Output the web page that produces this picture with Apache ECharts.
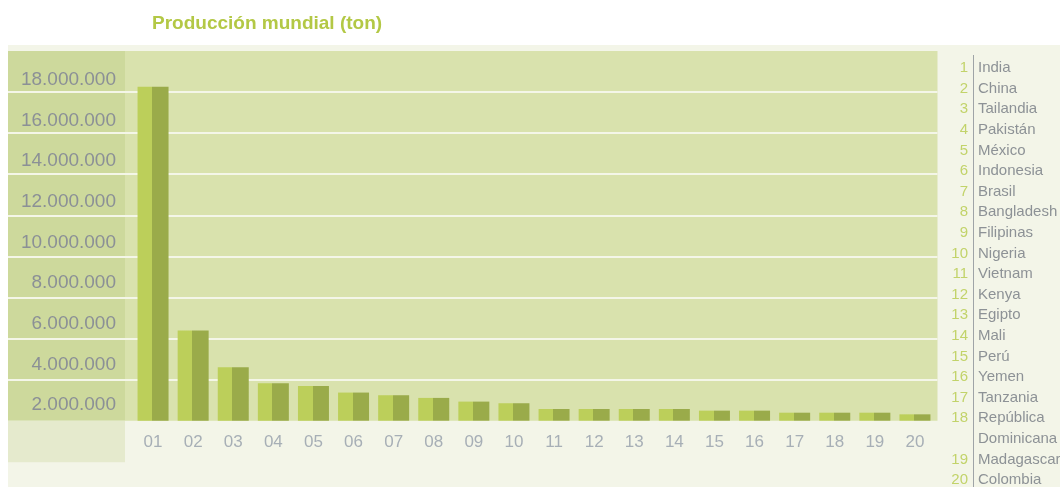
<!DOCTYPE html>
<html>
<head>
<meta charset="utf-8">
<script src="https://cdn.jsdelivr.net/npm/echarts@6/dist/echarts.min.js"></script>
<style>
  html, body { margin: 0; padding: 0; background: #fff; }
  #chart { width: 1060px; height: 487px; }
</style>
</head>
<body>
<div id="chart"></div>
<script>
  // datos
  var categories = ['01', '02', '03', '04', '05', '06', '07', '08', '09', '10',
                    '11', '12', '13', '14', '15', '16', '17', '18', '19', '20'];
  var production = [16260000, 4390000, 2600000, 1820000, 1690000, 1370000, 1240000, 1110000, 930000, 850000,
                    570000, 570000, 570000, 570000, 490000, 490000, 390000, 390000, 390000, 310000];
  var countries = ['India', 'China', 'Tailandia', 'Pakistán', 'México', 'Indonesia', 'Brasil', 'Bangladesh',
                   'Filipinas', 'Nigeria', 'Vietnam', 'Kenya', 'Egipto', 'Mali', 'Perú', 'Yemen', 'Tanzania',
                   'República Dominicana', 'Madagascar', 'Colombia'];
  var yMax = 18000000;
  var yStep = 2000000;

  var light = '#bccf5a', dark = '#9aab4a';
  var font = '"Liberation Sans", Arial, sans-serif';

  // separador de miles con punto
  function fmt(v) {
    return String(v).replace(/\B(?=(\d{3})+(?!\d))/g, '.');
  }

  // leyenda de paises a la derecha
  var ctx = document.createElement('canvas').getContext('2d');
  ctx.font = '15px ' + font;
  var legend = [];
  var row = 0;
  countries.forEach(function (name, i) {
    var lines = [name];
    if (name.indexOf(' ') > 0 && ctx.measureText(name).width > 80) lines = name.split(' ');
    legend.push({
      type: 'text', x: 968, y: 68 + row * 20.6,
      style: { text: String(i + 1), align: 'right', verticalAlign: 'middle', font: '15px ' + font, fill: '#c2d36a' }
    });
    lines.forEach(function (l) {
      legend.push({
        type: 'text', x: 978, y: 68 + row * 20.6,
        style: { text: l, align: 'left', verticalAlign: 'middle', font: '15px ' + font, fill: '#8d9296' }
      });
      row++;
    });
  });

  // colores de las lineas de la grilla (sin linea en 0 ni en el maximo)
  var gridColors = [];
  for (var k = 0; k <= yMax / yStep; k++) {
    gridColors.push(k === 0 || k === yMax / yStep ? 'rgba(0,0,0,0)' : '#f4f6e8');
  }

  var myChart = echarts.init(document.getElementById('chart'));

  var option = {
    animation: false,
    backgroundColor: '#ffffff',
    title: {
      text: 'Producción mundial (ton)',
      left: 152,
      top: 14,
      padding: 0,
      textStyle: { color: '#b3c845', fontSize: 19, fontWeight: 'bold', fontFamily: font }
    },
    graphic: [
      { type: 'rect', z: -10, shape: { x: 8, y: 45, width: 1052, height: 442 }, style: { fill: '#f3f5e8' } },
      { type: 'rect', z: -10, shape: { x: 125, y: 51, width: 812.5, height: 369.7 }, style: { fill: '#d9e2ad' } },
      { type: 'rect', z: -10, shape: { x: 8, y: 51, width: 117, height: 369.7 }, style: { fill: '#cdd99c' } },
      { type: 'rect', z: -10, shape: { x: 8, y: 420.7, width: 117, height: 41.5 }, style: { fill: '#e5eacd' } },
      { type: 'line', z: -5, shape: { x1: 973.5, y1: 55, x2: 973.5, y2: 487 }, style: { stroke: '#9fa4a7', lineWidth: 1 } }
    ].concat(legend),
    grid: [
      // lineas de fondo
      { left: 8, right: 122.5, top: 51, bottom: 66.3 },
      // barras
      { left: 133, right: 125, top: 51, bottom: 66.3 },
      // etiquetas del eje y, desplazadas hacia abajo dentro de cada banda
      { left: 133, right: 925, top: 80, bottom: 41.4 }
    ],
    xAxis: [
      { gridIndex: 0, type: 'value', show: false },
      {
        gridIndex: 1,
        type: 'category',
        data: categories,
        axisLine: { show: false },
        axisTick: { show: false },
        axisLabel: { color: '#a7afb6', fontSize: 17, fontFamily: font, margin: 13 }
      },
      { gridIndex: 2, type: 'value', show: false }
    ],
    yAxis: [
      {
        gridIndex: 0,
        type: 'value',
        min: 0, max: yMax, interval: yStep,
        axisLine: { show: false },
        axisTick: { show: false },
        axisLabel: { show: false },
        splitLine: { show: true, lineStyle: { color: gridColors, width: 2 } }
      },
      {
        gridIndex: 1,
        type: 'value',
        min: 0, max: yMax, interval: yStep,
        show: false
      },
      {
        gridIndex: 2,
        type: 'value',
        min: 0, max: yMax, interval: yStep,
        axisLine: { show: false },
        axisTick: { show: false },
        splitLine: { show: false },
        axisLabel: {
          color: '#8b9096',
          fontSize: 19,
          fontFamily: font,
          margin: 17,
          showMaxLabel: true,
          formatter: function (v) { return v === 0 ? '' : fmt(v); }
        }
      }
    ],
    series: [
      {
        type: 'bar',
        xAxisIndex: 1,
        yAxisIndex: 1,
        data: production,
        barWidth: 31,
        itemStyle: {
          color: new echarts.graphic.LinearGradient(0, 0, 1, 0, [
            { offset: 0, color: light },
            { offset: 0.47, color: light },
            { offset: 0.47, color: dark },
            { offset: 1, color: dark }
          ])
        }
      }
    ]
  };

  myChart.setOption(option);
  window.addEventListener('resize', function () {
    myChart.resize();
  });
</script>
</body>
</html>
